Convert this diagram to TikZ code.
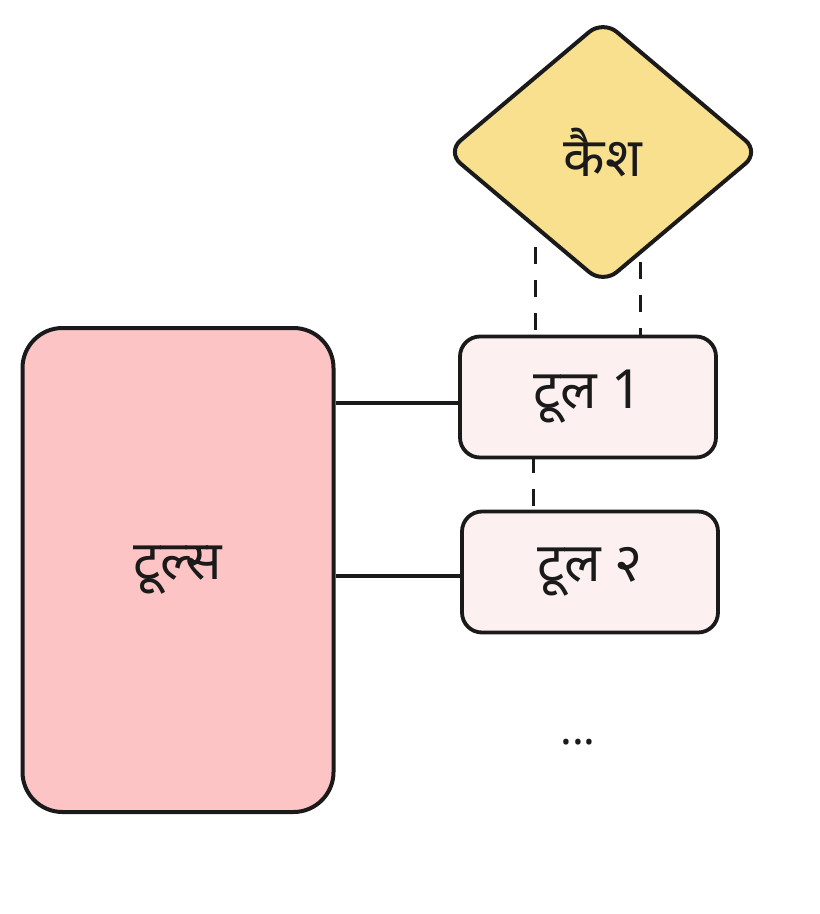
\documentclass[tikz,border=0pt]{standalone}
\usepackage{fontspec}
\newfontfamily\deva[Script=Devanagari]{Noto Sans}
\usetikzlibrary{shapes.geometric, positioning}

\definecolor{cacheyellow}{HTML}{F8E08E}
\definecolor{toolspink}{HTML}{FCC4C4}
\definecolor{toolpink}{HTML}{FDF0F0}
\definecolor{ink}{HTML}{1A1A1A}

\begin{document}
\begin{tikzpicture}[x=1pt, y=-1pt, font=\deva\fontsize{54}{60}\selectfont,
        every node/.style={text=ink},
        cachebox/.style={diamond, draw=ink, fill=cacheyellow, line width=4pt, rounded corners=18pt, minimum width=314pt, minimum height=265pt, inner sep=0pt},
        toolsbox/.style={draw=ink, fill=toolspink, line width=4pt, rounded corners=40pt, minimum width=311pt, minimum height=484pt},
        toolbox/.style={draw=ink, fill=toolpink, line width=3.8pt, rounded corners=20pt, minimum width=256pt, minimum height=121pt},
        link/.style={draw=ink, line width=3.4pt},
        cachelink/.style={draw=ink, line width=3pt, dash pattern=on 17pt off 16pt},
      ]
        \useasboundingbox (0,0) rectangle (820,914);

        % cache
        \node[cachebox] (cache) at (603,152) {कैश};

        % tools and the single tools
        \node[toolsbox] (tools) at (178,570) {टूल्स};
        \node[toolbox] (tool1) at (588,397) {\raisebox{-5pt}{टूल 1}};
        \node[toolbox] (tool2) at (590,572) {\raisebox{-4pt}{टूल २}};
        \node[font=\deva\fontsize{44}{48}\selectfont] (dots) at (578,742) {...};

        % links from tools
        \draw[link] (tools.east |- 0,403) -- (tool1.west |- 0,403);
        \draw[link] (tools.east |- 0,576) -- (tool2.west |- 0,576);

        % cache lines (dashed)
        \coordinate (cacheL) at (535,247);
        \coordinate (cacheR) at (640,262);
        \draw[cachelink] (cacheL) -- (cacheL |- tool1.north);
        \draw[cachelink] (cacheR) -- (cacheR |- tool1.north);
        \draw[cachelink, dash phase=3pt] (tool1.south -| 533,0) -- (tool2.north -| 533,0);
      \end{tikzpicture}
\end{document}
